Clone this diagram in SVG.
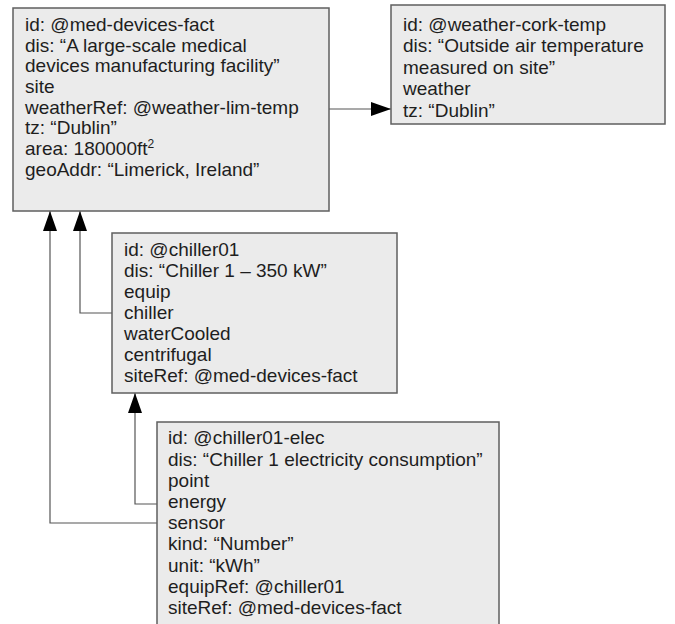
<svg xmlns="http://www.w3.org/2000/svg" width="675" height="624" viewBox="0 0 675 624">
<style>
.box{fill:#ebebeb;stroke:#5f5f5f;stroke-width:1.5}
.t{font-family:"Liberation Sans",Arial,sans-serif;font-size:19px;fill:#1e1e1e}
.c{fill:none;stroke:#555;stroke-width:1.2}
</style>
<defs>
<marker id="ah" markerWidth="20" markerHeight="14" refX="20" refY="7" orient="auto" markerUnits="userSpaceOnUse">
<path d="M0,0 L20,7 L0,14 Z" fill="#000"/>
</marker>
</defs>
<rect width="675" height="624" fill="#fff"/>
<g id="connectors">
<path class="c" d="M329,109 H391" marker-end="url(#ah)"/>
<path class="c" d="M112,313 H80 V211" marker-end="url(#ah)"/>
<path class="c" d="M157,523 H50 V211" marker-end="url(#ah)"/>
<path class="c" d="M157,504 H135 V393" marker-end="url(#ah)"/>
</g>
<g id="med-devices-fact">
<rect class="box" x="13" y="8" width="316" height="203"/>
<text class="t" x="25" y="31">id: @med-devices-fact</text>
<text class="t" x="25" y="51.7">dis: “A large-scale medical</text>
<text class="t" x="25" y="72.4">devices manufacturing facility”</text>
<text class="t" x="25" y="93">site</text>
<text class="t" x="25" y="113.7">weatherRef: @weather-lim-temp</text>
<text class="t" x="25" y="134.4">tz: “Dublin”</text>
<text class="t" x="25" y="155">area: 180000ft<tspan font-size="12" dy="-7">2</tspan></text>
<text class="t" x="25" y="175.7">geoAddr: “Limerick, Ireland”</text>
</g>
<g id="weather-cork-temp">
<rect class="box" x="391" y="5" width="274" height="119"/>
<text class="t" x="403" y="30.7">id: @weather-cork-temp</text>
<text class="t" x="403" y="52.2">dis: “Outside air temperature</text>
<text class="t" x="403" y="73.7">measured on site”</text>
<text class="t" x="403" y="95.2">weather</text>
<text class="t" x="403" y="116.7">tz: “Dublin”</text>
</g>
<g id="chiller01">
<rect class="box" x="112" y="233" width="285" height="160"/>
<text class="t" x="124" y="256">id: @chiller01</text>
<text class="t" x="124" y="277">dis: “Chiller 1 – 350 kW”</text>
<text class="t" x="124" y="298">equip</text>
<text class="t" x="124" y="319">chiller</text>
<text class="t" x="124" y="340">waterCooled</text>
<text class="t" x="124" y="361">centrifugal</text>
<text class="t" x="124" y="382">siteRef: @med-devices-fact</text>
</g>
<g id="chiller01-elec">
<rect class="box" x="157" y="422" width="342" height="215"/>
<text class="t" x="168" y="444.3">id: @chiller01-elec</text>
<text class="t" x="168" y="465.5">dis: “Chiller 1 electricity consumption”</text>
<text class="t" x="168" y="486.7">point</text>
<text class="t" x="168" y="507.9">energy</text>
<text class="t" x="168" y="529.1">sensor</text>
<text class="t" x="168" y="550.3">kind: “Number”</text>
<text class="t" x="168" y="571.5">unit: “kWh”</text>
<text class="t" x="168" y="592.7">equipRef: @chiller01</text>
<text class="t" x="168" y="614">siteRef: @med-devices-fact</text>
</g>
</svg>
